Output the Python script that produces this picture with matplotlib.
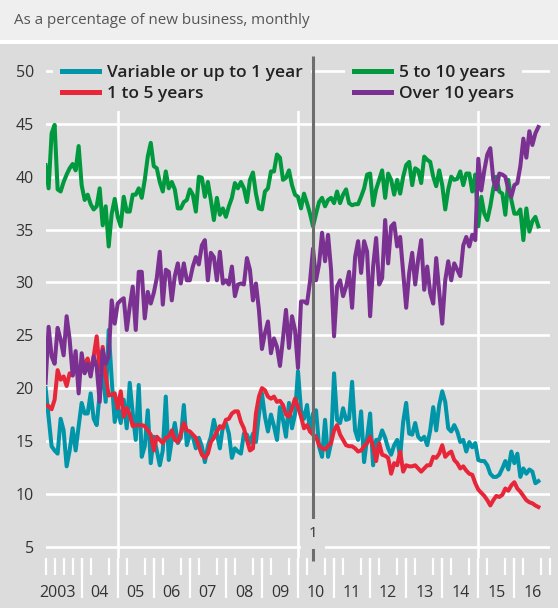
import numpy as np
import matplotlib
matplotlib.use("Agg")
import matplotlib.pyplot as plt
from matplotlib.patches import Rectangle

plt.rcParams['font.family'] = ['Open Sans', 'DejaVu Sans']

# Monthly shares of new mortgage business, Jan 2003 onwards (per cent)
start_year = 2003

variable = [20.0, 17.3, 14.5, 14.1, 13.8, 17.1, 16.0, 12.6, 14.1, 16.2,
            14.1, 16.4, 18.6, 17.6, 17.6, 19.5, 17.1, 16.5, 19.5, 21.6,
            18.7, 25.5, 20.8, 16.8, 18.2, 16.7, 18.9, 16.2, 20.5, 17.6,
            15.1, 20.3, 13.5, 14.5, 17.9, 12.9, 15.4, 14.1, 12.7, 14.1,
            19.2, 13.2, 15.1, 16.7, 14.8, 15.3, 18.4, 14.6, 15.6, 15.4,
            14.3, 15.3, 14.5, 13.0, 14.5,
            15.4, 17.0, 15.7, 14.3, 16.4, 16.7, 15.7, 13.4, 14.3, 14.0,
            13.8, 15.7, 15.6, 14.8, 15.7, 14.9, 17.5, 19.5, 17.3, 15.9,
            17.5, 16.4, 15.1, 18.2, 17.0, 15.4, 18.6, 16.2, 17.5, 21.6,
            17.9, 17.1, 18.4, 15.9, 17.6, 17.9, 14.5, 13.5, 17.0, 13.5,
            14.8, 21.4, 17.0, 16.7, 18.1, 17.0, 17.1, 20.6, 16.0, 15.1,
            17.8, 13.0, 15.3, 17.6, 12.7, 15.1, 15.1, 16.0, 15.3, 14.3,
            13.7, 14.6, 15.1, 13.5, 16.8, 18.6, 15.7, 15.6, 16.7, 15.4,
            15.1, 15.4, 14.6, 16.0, 18.2, 16.0, 18.4, 19.7, 18.7, 16.2,
            15.9, 16.5, 15.9, 14.9, 15.1, 14.0, 14.9, 14.4, 14.8, 13.2,
            13.1, 13.1, 12.7, 11.9, 11.6, 11.6, 11.8, 12.4, 13.1, 12.3,
            14.0, 12.9, 13.8, 11.6, 12.4, 11.9, 12.3, 12.1, 11.0, 11.2]

one_to_five = [18.4, 18.3, 18.0, 18.9, 21.7, 20.8, 21.1, 20.2, 21.4, 21.2,
               22.0, 21.2, 21.7, 22.3, 22.8, 21.4, 23.0, 24.9, 21.7, 23.9,
               21.2, 19.3, 19.4, 19.5, 18.1, 19.7, 17.3, 18.1, 17.5, 16.4,
               16.5, 16.5, 16.5, 16.4, 16.0, 15.6, 14.1, 15.4, 15.1, 14.8,
               15.3, 15.4, 16.0, 15.1, 14.9, 15.7, 16.7, 16.0, 15.9, 15.6,
               15.3, 14.5, 13.7, 13.4, 13.8,
               14.9, 15.3, 15.9, 16.4, 16.2, 17.0, 17.1, 17.6, 17.8, 17.8,
               16.8, 16.2, 15.1, 14.1, 14.3, 17.6, 19.2, 20.0, 19.8, 19.2,
               19.0, 19.2, 18.7, 18.8, 18.4, 17.5, 17.3, 18.1, 19.0, 18.2,
               17.3, 16.2, 16.5, 15.9, 15.6, 15.4, 14.6, 14.3, 14.2, 14.5,
               14.8, 16.0, 16.5, 15.6, 15.1, 14.6, 14.5, 14.5, 14.3, 14.0,
               14.1, 14.5, 14.8, 15.4, 14.5, 13.1, 14.8, 13.7, 13.6, 13.4,
               11.9, 12.9, 12.7, 14.0, 12.1, 12.7, 12.6, 12.6, 12.7, 12.4,
               12.1, 12.4, 12.7, 12.7, 13.5, 13.4, 13.8, 14.6, 13.5, 13.8,
               14.0, 13.2, 12.9, 12.4, 12.6, 12.2, 11.9, 11.8, 11.0, 10.4,
               10.1, 9.8, 9.4, 8.9, 9.4, 9.8, 9.7, 9.9, 10.5, 10.3,
               10.8, 11.1, 10.5, 10.2, 9.8, 9.4, 9.2, 9.1, 8.9, 8.75]

five_to_ten = [41.1, 38.9, 44.1, 44.9, 38.8, 38.6, 39.5, 40.2, 40.8, 41.2,
               40.6, 42.9, 39.2, 37.8, 38.3, 37.4, 36.9, 37.2, 38.9, 35.4,
               37.2, 33.4, 36.5, 37.9, 36.2, 35.3, 38.1, 36.7, 36.7, 38.3,
               38.3, 38.9, 38.0, 39.7, 41.9, 43.2, 41.0, 40.8, 39.5, 38.6,
               40.5, 38.9, 39.5, 38.8, 37.0, 37.0, 37.6, 37.8, 38.8, 38.3,
               36.7, 40.0, 39.9, 38.1, 39.5,
               37.8, 35.9, 38.0, 36.4, 37.0, 36.2, 37.2, 38.0, 39.4, 38.9,
               39.5, 38.9, 37.6, 39.7, 40.4, 38.4, 37.0, 36.9, 38.6, 38.9,
               40.5, 40.5, 42.1, 41.8, 39.7, 39.9, 40.6, 39.2, 38.3, 38.1,
               37.0, 38.4, 37.5, 36.5, 35.3, 36.5, 37.6, 38.0, 37.2, 37.8,
               38.0, 37.5, 38.6, 37.5, 38.3, 38.8, 37.5, 37.3, 37.4, 37.4,
               38.1, 38.9, 40.2, 40.3, 37.3, 38.8, 39.7, 40.6, 38.0, 40.3,
               39.7, 38.3, 39.7, 38.4, 40.0, 41.1, 41.4, 39.2, 40.8, 40.6,
               39.4, 41.9, 41.6, 41.4, 40.0, 39.1, 40.6, 39.2, 36.9, 38.8,
               40.0, 39.7, 39.8, 40.5, 39.2, 40.3, 40.3, 38.6, 40.2, 35.3,
               38.1, 36.5, 35.9, 37.2, 38.9, 40.0, 38.6, 38.4, 36.4, 39.7,
               37.8, 36.5, 36.5, 36.9, 34.0, 37.0, 34.8, 35.8, 36.2, 35.3]

over_ten = [20.5, 25.8, 23.0, 22.3, 25.7, 24.6, 23.1, 26.8, 24.6, 21.2,
            23.5, 19.5, 23.3, 21.4, 22.3, 21.1, 23.0, 22.0, 18.7, 23.6,
            22.3, 23.0, 28.3, 26.1, 28.0, 28.3, 28.5, 25.5, 27.7, 29.6,
            25.5, 31.0, 31.0, 26.6, 29.1, 28.0, 29.0, 30.4, 32.9, 27.9,
            31.2, 31.0, 28.3, 30.6, 31.8, 29.9, 31.8, 30.2, 30.2, 31.5,
            32.4, 31.7, 33.5, 34.0, 30.2,
            32.8, 32.4, 30.2, 32.9, 29.9, 30.2, 29.8, 31.5, 28.7, 29.8,
            29.9, 29.8, 32.3, 31.2, 28.3, 29.9, 27.4, 23.7, 25.2, 26.3,
            23.3, 24.7, 23.9, 22.1, 24.7, 27.4, 23.8, 26.8, 25.5, 21.9,
            28.2, 28.2, 28.0, 30.1, 33.2, 30.2, 31.7, 34.7, 32.0, 34.5,
            31.2, 24.9, 29.6, 30.2, 28.7, 29.6, 31.0, 27.6, 32.4, 33.9,
            30.9, 33.9, 32.9, 26.8, 31.5, 34.2, 29.8, 30.4, 35.9, 31.8,
            35.3, 35.6, 33.4, 34.3, 30.9, 27.6, 30.9, 32.8, 29.8, 32.2,
            34.0, 29.3, 31.5, 29.0, 28.0, 32.3, 29.1, 26.1, 30.2, 32.0,
            30.2, 31.8, 31.2, 30.6, 33.5, 34.3, 33.4, 34.5, 34.0, 41.7,
            38.7, 40.6, 42.1, 42.7, 39.7, 38.8, 40.3, 40.2, 40.0, 38.8,
            38.1, 39.2, 39.4, 41.0, 43.6, 41.8, 44.3, 43.0, 44.1, 44.7]

series = [variable, one_to_five, five_to_ten, over_ten]
series_labels = ["Variable or up to 1 year", "1 to 5 years",
                 "5 to 10 years", "Over 10 years"]
series_colors = ["#0095a9", "#e8263a", "#00993e", "#7b3191"]

year_labels = ["2003"] + [f"{y % 100:02d}" for y in range(2004, 2017)]
event_date = 2010 + 5 / 12
event_label = "1"

months = start_year + np.arange(len(variable)) / 12

W, H = 558, 608
fig = plt.figure(figsize=(W / 100, H / 100), dpi=100, facecolor="white")

# title band and chart panel
fig.patches.append(Rectangle((0, 1 - 40 / H), 1, 40 / H, transform=fig.transFigure,
                             facecolor="#efefef", edgecolor="none", zorder=-10))
fig.patches.append(Rectangle((0, 0), 1, 1 - 44 / H, transform=fig.transFigure,
                             facecolor="#dcdcdc", edgecolor="none", zorder=-10))
fig.text(14 / W, 1 - 21 / H, "As a percentage of new business, monthly",
         ha="left", va="center", fontsize=10.9, color="#555555")

ax = fig.add_axes([45.6 / W, (H - 558.3) / H, (550.4 - 45.6) / W, (558.3 - 56.2) / H])
ax.set_facecolor("#dcdcdc")
ax.set_xlim(2003, 2017)
ax.set_ylim(3.9, 51.4)
for s in ax.spines.values():
    s.set_visible(False)

# grid
ax.set_yticks(np.arange(5, 51, 5))
ax.yaxis.grid(True, color="white", lw=1.9)
for gx in [2005, 2010, 2015]:
    ax.axvline(gx, color="white", lw=1.9, zorder=0.8)
ax.set_axisbelow(True)

ax.tick_params(axis="y", length=0, pad=8.5, labelsize=11.5, labelcolor="#333333")

# x axis: labels mid-year, quarter ticks, long ticks at year starts
label_pos = [2003.32] + [y + 0.5 for y in range(2004, 2017)]
ax.set_xticks(label_pos, year_labels)
ax.set_xticks(np.arange(2003, 2017.01, 0.25), minor=True)
ax.tick_params(axis="x", which="major", length=0, pad=19, labelsize=11.5,
               labelcolor="#333333")
ax.tick_params(axis="x", which="minor", length=12, width=1.6, color="white")

sec = ax.secondary_xaxis("bottom")
sec.set_xticks(range(2004, 2017))
sec.tick_params(length=29, width=1.6, color="white", labelbottom=False)
for s in sec.spines.values():
    s.set_visible(False)

lines = []
for vals, lab, col in zip(series, series_labels, series_colors):
    ln, = ax.plot(months, vals, color=col, lw=2.9, label=lab,
                  solid_joinstyle="round", zorder=2)
    lines.append(ln)

# footnote marker line
ax.vlines(event_date, 3.6, 51.4, colors="#6d6d6d", lw=2.2, clip_on=False, zorder=3)
ax.text(event_date, 6.2, event_label, ha="center", va="center", fontsize=11,
        color="#333333", zorder=4,
        bbox=dict(boxstyle="square,pad=0.5", fc="#dcdcdc", ec="none"))

leg_kw = dict(loc="upper left", frameon=True, facecolor="#dcdcdc", edgecolor="none",
              framealpha=1, fancybox=False, handlelength=2.15,
              handletextpad=0.45, labelspacing=0.3, borderpad=0.5, borderaxespad=0,
              labelcolor="#222222",
              prop={"family": ["Open Sans", "DejaVu Sans"], "size": 12.5,
                    "weight": "semibold"})
leg1 = ax.legend(handles=lines[:2], bbox_to_anchor=(0.0147, 1.0), **leg_kw)
leg1.set_zorder(5)
ax.add_artist(leg1)
leg2 = ax.legend(handles=lines[2:], bbox_to_anchor=(0.593, 1.0), **leg_kw)
leg2.set_zorder(5)
for leg in (leg1, leg2):
    for h in leg.legend_handles:
        h.set_linewidth(3.6)

fig.savefig("out.png", dpi=100, facecolor=fig.get_facecolor())
